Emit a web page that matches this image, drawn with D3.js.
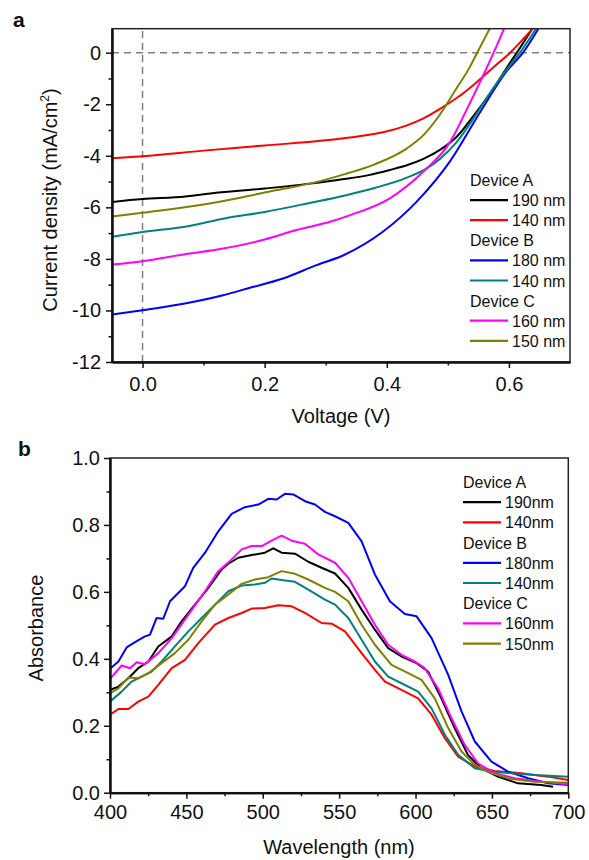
<!DOCTYPE html>
<html>
<head>
<meta charset="utf-8">
<script src="https://cdn.jsdelivr.net/npm/d3@7"></script>
<style>
  body { margin: 0; background: #fff; }
  svg text { font-family: "Liberation Sans", Arial, sans-serif; fill: #111; }
</style>
</head>
<body>
<svg id="fig" width="589" height="860"></svg>
<script>
"use strict";

// ---- panel a : J-V curves, [voltage (V), current density (mA/cm2)] ----
let jvA190 = [[-0.05,-5.79],[0,-5.68],[0.07,-5.58],[0.1,-5.49],[0.2,-5.27],[0.27,-5.09],[0.33,-4.9],[0.37,-4.75],
  [0.405,-4.55],[0.435,-4.35],[0.46,-4.12],[0.487,-3.77],[0.515,-3.25],[0.542,-2.45],[0.575,-1.38],[0.602,-0.38],[0.613,0],[0.64,1.0]];
let jvA140 = [[-0.05,-4.1],[0,-4.02],[0.1,-3.8],[0.2,-3.6],[0.3,-3.4],[0.36,-3.22],[0.394,-3.09],[0.433,-2.82],
  [0.46,-2.55],[0.487,-2.18],[0.515,-1.75],[0.542,-1.25],[0.572,-0.62],[0.602,0],[0.63,0.7],[0.645,1.1]];
let jvB180 = [[-0.05,-10.16],[0,-9.99],[0.067,-9.74],[0.132,-9.41],[0.176,-9.12],[0.23,-8.76],[0.285,-8.24],[0.33,-7.85],
  [0.394,-6.94],[0.449,-5.78],[0.504,-4.2],[0.553,-2.3],[0.597,-0.7],[0.623,0],[0.65,1.0]];
let jvB140 = [[-0.05,-7.14],[0,-6.96],[0.072,-6.74],[0.138,-6.41],[0.2,-6.18],[0.274,-5.83],[0.33,-5.55],[0.38,-5.25],
  [0.433,-4.85],[0.466,-4.48],[0.487,-4.12],[0.515,-3.45],[0.542,-2.55],[0.565,-1.7],[0.59,-0.85],[0.618,0],[0.645,0.95]];
let jvC160 = [[-0.05,-8.22],[0,-8.09],[0.067,-7.83],[0.132,-7.6],[0.2,-7.25],[0.252,-6.88],[0.307,-6.56],[0.34,-6.3],
  [0.405,-5.65],[0.46,-4.61],[0.504,-3.45],[0.531,-2.2],[0.558,-0.87],[0.575,0],[0.595,1.1]];
let jvC150 = [[-0.05,-6.36],[0,-6.21],[0.1,-5.89],[0.165,-5.6],[0.22,-5.33],[0.274,-5.08],[0.33,-4.72],[0.378,-4.35],
  [0.433,-3.71],[0.46,-3.2],[0.487,-2.4],[0.515,-1.35],[0.535,-0.6],[0.548,0],[0.57,1.0]];

// ---- panel b : absorbance spectra, [wavelength (nm), absorbance] ----
let absA190 = [[400,0.307],[405.5,0.317],[412,0.342],[418.5,0.372],[425.1,0.392],[431.6,0.437],[440.4,0.467],[446.9,0.512],
  [455.6,0.562],[464.4,0.612],[473.1,0.667],[477.5,0.684],[484,0.702],[492.7,0.71],[501.4,0.717],[506.9,0.73],[512.3,0.717],
  [521.1,0.714],[529.8,0.69],[538.5,0.672],[547.3,0.655],[556,0.612],[564.7,0.547],[573.4,0.487],[582.1,0.432],[590.8,0.407],
  [600.7,0.387],[608.2,0.362],[616.9,0.282],[625.6,0.193],[634.3,0.113],[643,0.073],[653.9,0.048],[667,0.028],[682.3,0.023],[690,0.018]];
let absA140 = [[400,0.233],[405.5,0.25],[412,0.25],[418.5,0.272],[425.1,0.287],[431.6,0.322],[440.4,0.372],[449.1,0.397],
  [457.8,0.447],[468.7,0.502],[477.5,0.522],[486.2,0.537],[492.7,0.55],[501.4,0.552],[510.2,0.56],[518.9,0.557],[527.6,0.537],
  [538.5,0.507],[545.1,0.505],[553.8,0.482],[564.7,0.417],[573.4,0.367],[580,0.332],[590.8,0.307],[601.7,0.282],[610.5,0.233],
  [619.2,0.163],[627.9,0.108],[638.8,0.078],[651.8,0.065],[669.3,0.058],[686.8,0.048],[700,0.038]];
let absB180 = [[400,0.37],[405.5,0.392],[410.9,0.434],[416.4,0.45],[422.9,0.467],[426.2,0.472],[430.5,0.522],[434.9,0.52],
  [439.3,0.572],[449.1,0.617],[454.5,0.672],[462.2,0.717],[470.9,0.781],[479.6,0.833],[488.3,0.853],[497.1,0.861],[503.6,0.878],
  [509.1,0.876],[514.5,0.893],[520,0.891],[527.6,0.871],[534.2,0.861],[540.7,0.839],[547.3,0.826],[556,0.806],[564.7,0.751],
  [573.4,0.652],[583.2,0.572],[593,0.534],[600.7,0.527],[610.5,0.462],[621.4,0.352],[630.1,0.243],[638.8,0.153],[649.7,0.093],
  [660.6,0.063],[673.7,0.043],[686.8,0.028],[700,0.023]];
let absB140 = [[400,0.272],[407.6,0.302],[414.2,0.332],[420.7,0.347],[427.3,0.362],[433.8,0.392],[442.5,0.437],[451.3,0.482],
  [460,0.522],[468.7,0.562],[477.5,0.602],[486.2,0.619],[494.9,0.622],[501.4,0.627],[505.8,0.64],[514.5,0.634],[521.1,0.63],
  [529.8,0.607],[540.7,0.577],[547.3,0.562],[556,0.522],[564.7,0.457],[573.4,0.392],[582.1,0.347],[590.8,0.327],[601.7,0.302],
  [610.5,0.252],[619.2,0.173],[627.9,0.113],[638.8,0.073],[649.7,0.063],[662.8,0.058],[678,0.053],[700,0.048]];
let absC160 = [[400,0.34],[407.6,0.38],[413.1,0.372],[417.5,0.39],[422.9,0.384],[431.6,0.417],[440.4,0.462],[451.3,0.532],
  [462.2,0.602],[470.9,0.662],[479.6,0.697],[486.2,0.727],[492.7,0.737],[499.3,0.737],[505.8,0.753],[512.3,0.768],[518.9,0.753],
  [527.6,0.744],[536.3,0.712],[547.3,0.687],[556,0.642],[564.7,0.572],[573.4,0.502],[582.1,0.442],[590.8,0.412],[599.5,0.392],
  [606,0.372],[614.7,0.312],[623.5,0.223],[632.2,0.143],[640.9,0.088],[651.8,0.058],[664.9,0.043],[678,0.035],[700,0.025]];
let absC150 = [[400,0.297],[405.5,0.312],[412,0.344],[418.5,0.342],[425.1,0.357],[433.8,0.387],[442.5,0.417],[451.3,0.457],
  [460,0.512],[468.7,0.562],[477.5,0.592],[486.2,0.624],[494.9,0.637],[503.6,0.644],[512.3,0.662],[521.1,0.654],[529.8,0.637],
  [540.7,0.612],[547.3,0.6],[556,0.572],[564.7,0.502],[573.4,0.442],[584.3,0.382],[595.2,0.357],[603.9,0.337],[612.6,0.282],
  [621.4,0.193],[630.1,0.123],[638.8,0.083],[649.7,0.058],[662.8,0.041],[678,0.033],[700,0.03]];

// legend groups and colours
let deviceNames = ["Device A", "Device B", "Device C"];
let seriesColors = ["#000000", "#ff0000", "#0000ff", "#008080", "#ff00ff", "#808000"];
let jvLabels = ["190 nm", "140 nm", "180 nm", "140 nm", "160 nm", "150 nm"];
let absLabels = ["190nm", "140nm", "180nm", "140nm", "160nm", "150nm"];
let jvSeries = [jvA190, jvA140, jvB180, jvB140, jvC160, jvC150];
let absSeries = [absA190, absA140, absB180, absB140, absC160, absC150];

// tick values
let jvXMajor = [0, 0.2, 0.4, 0.6], jvXMinor = [0.1, 0.3, 0.5];
let jvYMajor = [-12, -10, -8, -6, -4, -2, 0], jvYMinor = [-11, -9, -7, -5, -3, -1];
let absXMajor = [400, 450, 500, 550, 600, 650, 700], absXMinor = [425, 475, 525, 575, 625, 675];
let absYMajor = [0, 0.2, 0.4, 0.6, 0.8, 1.0], absYMinor = [0.1, 0.3, 0.5, 0.7, 0.9];

const svg = d3.select("#fig");
const fontAxis = 20;

function frame(x, y, s) {
  const [x0, x1] = x.range(), [y0, y1] = y.range();
  svg.append("rect")
    .attr("x", x0).attr("y", y1).attr("width", x1 - x0).attr("height", y0 - y1)
    .attr("fill", "none").attr("stroke", "#222").attr("stroke-width", 1.5);
}

function axes(x, y, xMaj, xMin, yMaj, yMin, xFmt, yFmt, xPad, yPad) {
  const [x0] = x.range(), [y0] = y.range();
  const gx = svg.append("g").attr("transform", `translate(0,${y0})`)
    .call(d3.axisBottom(x).tickValues(xMaj).tickFormat(xFmt).tickSize(6).tickSizeOuter(0).tickPadding(xPad));
  svg.append("g").attr("transform", `translate(0,${y0})`)
    .call(d3.axisBottom(x).tickValues(xMin).tickFormat("").tickSize(3.5).tickSizeOuter(0));
  const gy = svg.append("g").attr("transform", `translate(${x0},0)`)
    .call(d3.axisLeft(y).tickValues(yMaj).tickFormat(yFmt).tickSize(6).tickSizeOuter(0).tickPadding(yPad));
  svg.append("g").attr("transform", `translate(${x0},0)`)
    .call(d3.axisLeft(y).tickValues(yMin).tickFormat("").tickSize(3.5).tickSizeOuter(0));
  svg.selectAll(".domain").attr("stroke", "#111").attr("stroke-width", 2);
  svg.selectAll(".tick line").attr("stroke", "#111").attr("stroke-width", 1.5);
  [gx, gy].forEach(g => g.selectAll("text")
    .attr("font-size", fontAxis)
    .attr("font-family", "Liberation Sans, Arial, sans-serif")
    .attr("fill", "#111"));
}

function legend(x0, yStart, step, labels) {
  const g = svg.append("g");
  let row = 0;
  deviceNames.forEach((name, d) => {
    g.append("text").attr("x", x0).attr("y", yStart + row * step + 6)
      .attr("font-size", 16).text(name);
    row++;
    for (let k = 0; k < 2; k++) {
      const i = d * 2 + k;
      const yy = yStart + row * step;
      g.append("line").attr("x1", x0).attr("x2", x0 + 38).attr("y1", yy).attr("y2", yy)
        .attr("stroke", seriesColors[i]).attr("stroke-width", 2.2);
      g.append("text").attr("x", x0 + 42).attr("y", yy + 6)
        .attr("font-size", 16).text(labels[i]);
      row++;
    }
  });
}

// ================= panel a =================
const xA = d3.scaleLinear().domain([-0.05, 0.7]).range([112, 570]);
const yA = d3.scaleLinear().domain([-12, 0.93]).range([362, 28.7]);

svg.append("clipPath").attr("id", "clipA").append("rect")
  .attr("x", 112).attr("y", 28.7).attr("width", 458).attr("height", 333.3);

// dashed zero lines
svg.append("line").attr("x1", xA(-0.05)).attr("x2", xA(0.7)).attr("y1", yA(0)).attr("y2", yA(0))
  .attr("stroke", "#808080").attr("stroke-width", 1.5).attr("stroke-dasharray", "7,5");
svg.append("line").attr("x1", xA(0)).attr("x2", xA(0)).attr("y1", yA(-12)).attr("y2", yA(0.93))
  .attr("stroke", "#808080").attr("stroke-width", 1.5).attr("stroke-dasharray", "7,5");

const lineA = d3.line().x(d => xA(d[0])).y(d => yA(d[1])).curve(d3.curveMonotoneX);
svg.append("g").attr("clip-path", "url(#clipA)")
  .selectAll("path").data(jvSeries).join("path")
  .attr("d", lineA).attr("fill", "none")
  .attr("stroke", (d, i) => seriesColors[i]).attr("stroke-width", 2);

frame(xA, yA);
axes(xA, yA, jvXMajor, jvXMinor, jvYMajor, jvYMinor, d3.format(".1f"), d => String(d), 9, 5);
legend(470, 180, 20.1, jvLabels);

svg.append("text").attr("x", 13).attr("y", 27).attr("font-size", 21).attr("font-weight", "bold").text("a");
svg.append("text").attr("x", 341).attr("y", 423).attr("text-anchor", "middle").attr("font-size", fontAxis).text("Voltage (V)");
const yLabA = svg.append("text").attr("transform", "translate(57,200) rotate(-90)")
  .attr("text-anchor", "middle").attr("font-size", fontAxis);
yLabA.append("tspan").text("Current density (mA/cm");
yLabA.append("tspan").attr("font-size", 12).attr("dy", -8).text("2");
yLabA.append("tspan").attr("dy", 8).text(")");

// ================= panel b =================
const xB = d3.scaleLinear().domain([400, 700]).range([110, 568.3]);
const yB = d3.scaleLinear().domain([0, 1]).range([792.7, 458]);

svg.append("clipPath").attr("id", "clipB").append("rect")
  .attr("x", 110).attr("y", 458).attr("width", 458.3).attr("height", 334.7);

const lineB = d3.line().x(d => xB(d[0])).y(d => yB(d[1]));
svg.append("g").attr("clip-path", "url(#clipB)")
  .selectAll("path").data(absSeries).join("path")
  .attr("d", lineB).attr("fill", "none").attr("stroke-linejoin", "round")
  .attr("stroke", (d, i) => seriesColors[i]).attr("stroke-width", 2);

frame(xB, yB);
axes(xB, yB, absXMajor, absXMinor, absYMajor, absYMinor, d3.format("d"), d3.format(".1f"), 6, 4);
legend(463, 482, 20.2, absLabels);

svg.append("text").attr("x", 18).attr("y", 456).attr("font-size", 21).attr("font-weight", "bold").text("b");
svg.append("text").attr("x", 339).attr("y", 854).attr("text-anchor", "middle").attr("font-size", fontAxis).text("Wavelength (nm)");
svg.append("text").attr("transform", "translate(43,628) rotate(-90)")
  .attr("text-anchor", "middle").attr("font-size", fontAxis).text("Absorbance");
</script>
</body>
</html>
